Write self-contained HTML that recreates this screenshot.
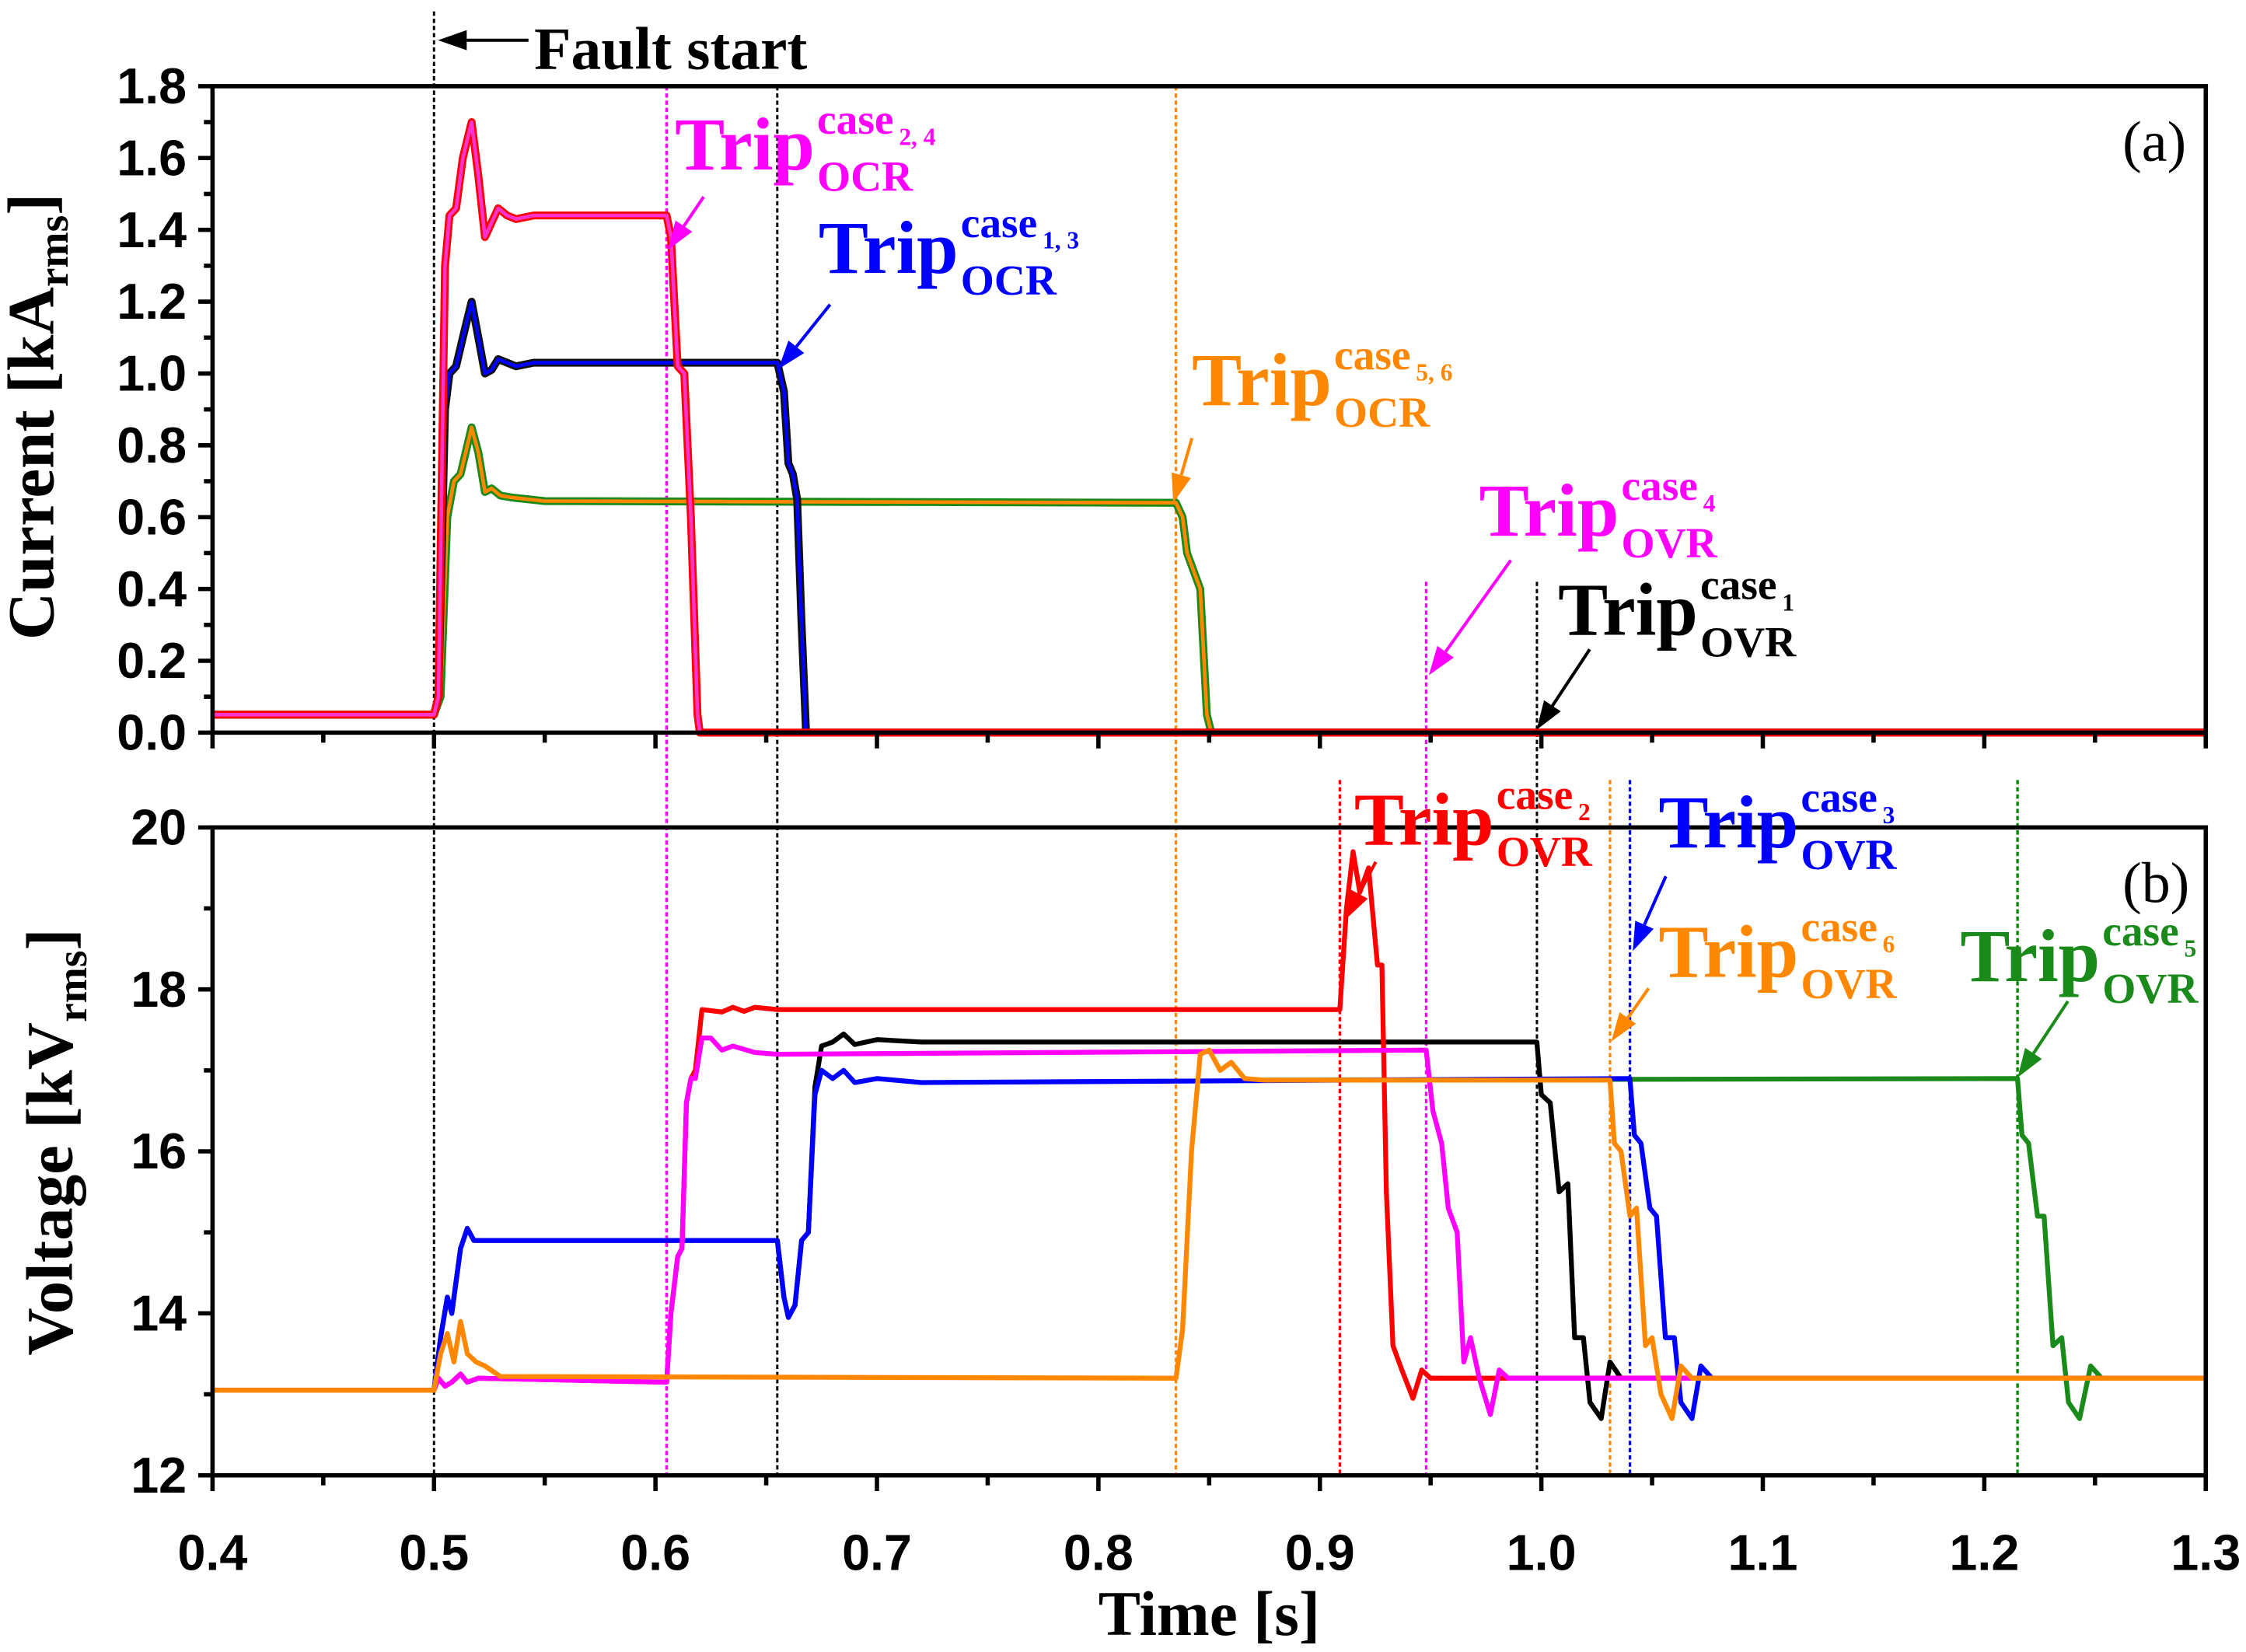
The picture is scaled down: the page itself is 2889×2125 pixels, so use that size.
<!DOCTYPE html>
<html><head><meta charset="utf-8">
<style>
html,body{margin:0;padding:0;background:#fff;}
svg{display:block;}
.tk{font-family:"Liberation Sans",sans-serif;font-weight:bold;fill:#000;}
.sf{font-family:"Liberation Serif",serif;font-weight:bold;}
</style></head>
<body>
<svg id="s" width="2889" height="2125" viewBox="0 0 1564 1150" preserveAspectRatio="none" xmlns="http://www.w3.org/2000/svg">
<g id="g"></g>
</svg>
<script>
var g=document.getElementById('g');
function X(t){return 148+(t-0.4)*1542.2;}
function YI(v){return 510-v/1.8*450;}
function YV(v){return 1027-(v-12)*56.375;}
var h='';
function line(x1,y1,x2,y2,c,w,d){h+='<line x1="'+x1+'" y1="'+y1+'" x2="'+x2+'" y2="'+y2+'" stroke="'+c+'" stroke-width="'+w+'"'+(d?' stroke-dasharray="'+d+'"':'')+'/>';}
function poly(pts,f,c,w){var s=pts.map(function(p){return X(p[0]).toFixed(1)+','+f(p[1]).toFixed(1);}).join(' ');h+='<polyline points="'+s+'" fill="none" stroke="'+c+'" stroke-width="'+w+'" stroke-linejoin="round"/>';}
function txt(x,y,s,cls,size,col,anchor,extra){h+='<text x="'+x+'" y="'+y+'" class="'+cls+'" font-size="'+size+'" fill="'+col+'"'+(anchor?' text-anchor="'+anchor+'"':'')+(extra||'')+'>'+s+'</text>';}
function arrow(x1,y1,x2,y2,c){
 var dx=x2-x1,dy=y2-y1,L=Math.sqrt(dx*dx+dy*dy),ux=dx/L,uy=dy/L,hl=20,hw=7;
 var bx=x2-ux*hl,by=y2-uy*hl;
 line(x1,y1,bx,by,c,2.2);
 h+='<polygon points="'+x2+','+y2+' '+(bx-uy*hw)+','+(by+ux*hw)+' '+(bx+uy*hw)+','+(by-ux*hw)+'" fill="'+c+'"/>';
}
function trip(x,y,col,sub,low){
 txt(x,y,'Trip','sf',52,col);
 txt(x+99,y-25,'case','sf',30,col);
 txt(x+156,y-17,sub,'sf',17,col);
 txt(x+99,y+15,low,'sf',30,col);
}
line(X(0.5),8,X(0.5),1027,'#000',1.6,'3,2');
line(X(0.605),60,X(0.605),1027,'#f0f',1.8,'3,2');
line(X(0.655),60,X(0.655),1027,'#000',1.6,'3,2');
line(X(0.835),60,X(0.835),1027,'#f80',1.8,'3,2');
line(X(0.948),405,X(0.948),1027,'#f0f',1.8,'3,2');
line(X(0.998),405,X(0.998),1027,'#000',1.6,'3,2');
line(X(0.909),543,X(0.909),1027,'#f00',1.8,'3,2');
line(X(1.031),543,X(1.031),1027,'#f80',1.8,'3,2');
line(X(1.040),543,X(1.040),1027,'#00f',1.8,'3,2');
line(X(1.215),543,X(1.215),1027,'#080',1.8,'3,2');

var red=[[0.4,0.05],[0.5,0.05],[0.502,0.1],[0.505,1.3],[0.507,1.44],[0.51,1.46],[0.513,1.6],[0.517,1.7],[0.52,1.55],[0.523,1.38],[0.526,1.42],[0.529,1.46],[0.533,1.44],[0.537,1.43],[0.545,1.44],[0.605,1.44],[0.607,1.38],[0.61,1.02],[0.613,1.0],[0.616,0.6],[0.619,0.05],[0.62,0],[1.3,0]];
var blue=[[0.4,0.05],[0.5,0.05],[0.502,0.1],[0.505,0.9],[0.507,1.0],[0.51,1.02],[0.513,1.1],[0.517,1.2],[0.52,1.1],[0.523,1.0],[0.526,1.01],[0.529,1.04],[0.533,1.03],[0.537,1.02],[0.545,1.03],[0.655,1.03],[0.658,0.95],[0.66,0.75],[0.662,0.72],[0.664,0.65],[0.666,0.3],[0.668,0],[1.3,0]];
var grn=[[0.4,0.05],[0.5,0.05],[0.503,0.1],[0.506,0.6],[0.509,0.7],[0.512,0.72],[0.517,0.85],[0.52,0.78],[0.523,0.67],[0.526,0.68],[0.53,0.66],[0.535,0.655],[0.55,0.645],[0.835,0.64],[0.838,0.6],[0.84,0.5],[0.843,0.45],[0.846,0.4],[0.849,0.05],[0.851,0],[1.3,0]];
poly(grn,YI,'#1a8a1a',5.5);poly(grn,YI,'#f80',2.5);
poly(blue,YI,'#111',5.5);poly(blue,YI,'#00f',2.5);
poly(red,YI,'#f00',5.5);poly(red,YI,'#f3c',2.5);

var pre=[[0.4,13.05],[0.5,13.05],[0.502,13.2],[0.505,13.1],[0.508,13.15],[0.512,13.25],[0.515,13.15],[0.52,13.2],[0.605,13.15]];
var magV=pre.concat([[0.607,14.0],[0.61,14.7],[0.612,14.8],[0.614,16.6],[0.616,16.9],[0.618,16.9],[0.621,17.4],[0.625,17.4],[0.63,17.25],[0.635,17.3],[0.645,17.22],[0.655,17.2],[0.948,17.25],[0.951,16.5],[0.955,16.1],[0.958,15.3],[0.962,15.0],[0.965,13.4],[0.968,13.7],[0.972,13.2],[0.977,12.75],[0.981,13.3],[0.985,13.2],[1.3,13.2]]);
var redV=pre.concat([[0.607,14.0],[0.61,14.7],[0.612,14.8],[0.614,16.6],[0.616,16.9],[0.618,17.0],[0.621,17.75],[0.63,17.72],[0.635,17.78],[0.64,17.73],[0.645,17.78],[0.655,17.75],[0.909,17.75],[0.912,19.0],[0.915,19.7],[0.918,19.2],[0.922,19.5],[0.926,18.3],[0.928,18.3],[0.93,15.5],[0.933,13.6],[0.937,13.3],[0.942,12.95],[0.946,13.3],[0.95,13.2],[1.3,13.2]]);
var blkV=[[0.4,13.05],[0.5,13.05],[0.503,13.7],[0.506,14.2],[0.508,14.0],[0.512,14.8],[0.515,15.05],[0.518,14.9],[0.655,14.9],[0.658,14.2],[0.66,13.95],[0.663,14.1],[0.666,14.9],[0.669,15.0],[0.672,16.8],[0.675,17.3],[0.68,17.35],[0.685,17.45],[0.69,17.32],[0.7,17.38],[0.72,17.35],[0.998,17.35],[1.0,16.7],[1.004,16.6],[1.008,15.5],[1.012,15.6],[1.015,13.7],[1.019,13.7],[1.022,12.9],[1.027,12.7],[1.031,13.4],[1.036,13.2],[1.3,13.2]];
var bluV=[[0.4,13.05],[0.5,13.05],[0.503,13.7],[0.506,14.2],[0.508,14.0],[0.512,14.8],[0.515,15.05],[0.518,14.9],[0.655,14.9],[0.658,14.2],[0.66,13.95],[0.663,14.1],[0.666,14.9],[0.669,15.0],[0.672,16.7],[0.675,17.0],[0.68,16.9],[0.685,17.0],[0.69,16.85],[0.7,16.9],[0.72,16.85],[1.040,16.9],[1.042,16.2],[1.045,16.1],[1.049,15.3],[1.052,15.2],[1.056,13.7],[1.06,13.7],[1.063,12.9],[1.068,12.7],[1.072,13.35],[1.077,13.2],[1.3,13.2]];
var orgV=[[0.4,13.05],[0.5,13.05],[0.503,13.5],[0.506,13.75],[0.509,13.4],[0.512,13.9],[0.515,13.5],[0.519,13.4],[0.523,13.35],[0.53,13.22],[0.835,13.2],[0.838,13.8],[0.842,16.0],[0.846,17.2],[0.85,17.25],[0.855,17.0],[0.86,17.1],[0.866,16.9],[0.875,16.88],[1.031,16.88],[1.033,16.1],[1.036,16.0],[1.04,15.2],[1.043,15.3],[1.047,13.6],[1.05,13.7],[1.054,13.0],[1.059,12.7],[1.063,13.35],[1.068,13.2],[1.3,13.2]];
var grnV=[[0.875,16.88],[1.215,16.9],[1.217,16.2],[1.22,16.1],[1.224,15.2],[1.227,15.2],[1.231,13.6],[1.235,13.7],[1.238,12.9],[1.243,12.7],[1.248,13.35],[1.253,13.2],[1.3,13.2]];
poly(grnV,YV,'#1a8a1a',3.4);
poly(blkV,YV,'#000',3.4);
poly(bluV,YV,'#00f',3.4);
poly(redV,YV,'#f00',3.4);
poly(magV,YV,'#f0f',3.4);
poly(orgV,YV,'#f80',3.4);

h+='<rect x="148" y="60" width="1388" height="450" fill="none" stroke="#000" stroke-width="3"/>';
h+='<rect x="148" y="576" width="1388" height="451" fill="none" stroke="#000" stroke-width="3"/>';
for(var i=0;i<=18;i++){var t=0.4+i*0.05,x=X(t),L=(i%2==0)?11:7;
 line(x,510,x,510+L,'#000',3);line(x,1027,x,1027+L,'#000',3);
 if(i%2==0)txt(x,1093,(0.4+i*0.05).toFixed(1),'tk',35,'#000','middle');}
for(var i=0;i<=18;i++){var v=i*0.1,y=YI(v),L=(i%2==0)?10:6;line(148-L,y,148,y,'#000',3);
 if(i%2==0)txt(130,y+12,v.toFixed(1),'tk',35,'#000','end');}
for(var i=0;i<=8;i++){var v=12+i,y=YV(v),L=(i%2==0)?10:6;line(148-L,y,148,y,'#000',3);
 if(i%2==0)txt(130,y+12,String(v),'tk',35,'#000','end');}

txt(0,0,'Current [kA<tspan font-size="30" dy="10">rms</tspan><tspan dy="-10">]</tspan>','sf',46,'#000','middle',' transform="translate(37,290) rotate(-90)"');
txt(0,0,'Voltage [kV<tspan font-size="30" dy="10">rms</tspan><tspan dy="-10">]</tspan>','sf',46,'#000','middle',' transform="translate(50,795) rotate(-90)"');
txt(842,1138,'Time [s]','sf',44,'#000','middle');
txt(372,48,'Fault start','sf',42,'#000');
arrow(368,28,305,28,'#000');
txt(1478,112,'(a)','',40,'#000','',' font-family="Liberation Serif,serif"');
txt(1478,628,'(b)','',40,'#000','',' font-family="Liberation Serif,serif"');

trip(470,118,'#f0f','2, 4','OCR'); arrow(490,137,465,174,'#f0f');
trip(570,190,'#00f','1, 3','OCR'); arrow(578,212,542,257,'#00f');
trip(830,282,'#f80','5, 6','OCR'); arrow(830,305,817,350,'#f80');
trip(1030,373,'#f0f','4','OVR'); arrow(1052,390,995,470,'#f0f');
trip(1085,442,'#000','1','OVR'); arrow(1107,452,1070,508,'#000');
trip(943,588,'#f00','2','OVR'); arrow(958,600,937,640,'#f00');
trip(1155,590,'#00f','3','OVR'); arrow(1160,610,1137,662,'#00f');
trip(1155,680,'#f80','6','OVR'); arrow(1148,688,1122,725,'#f80');
trip(1365,683,'#1a8a1a','5','OVR'); arrow(1440,697,1405,750,'#1a8a1a');
g.innerHTML=h;
</script>
</body></html>
